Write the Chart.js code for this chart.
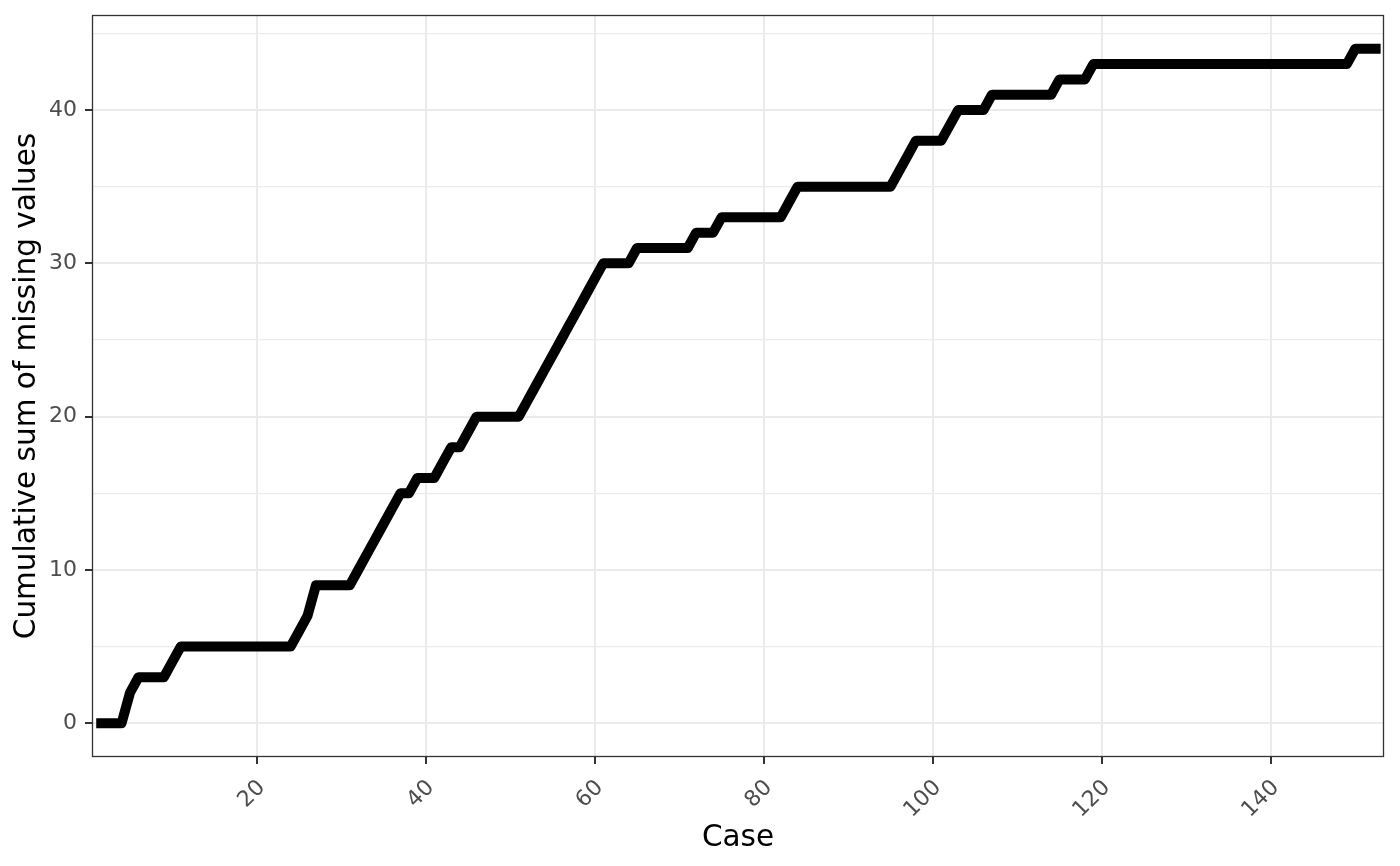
<!DOCTYPE html>
<html>
<head>
<meta charset="utf-8">
<script src="https://cdn.jsdelivr.net/npm/chart.js@4/dist/chart.umd.min.js"></script>
<style>
  html, body { margin: 0; padding: 0; background: #ffffff; }
  #wrap { width: 1400px; height: 866px; position: relative; }
</style>
</head>
<body>
<div id="wrap"><canvas id="c" width="1400" height="866"></canvas></div>
<script>
// Case index (row of the data set)
const cases = [
  1,2,3,4,5,6,7,8,9,10,11,12,13,14,15,16,17,18,19,20,
  21,22,23,24,25,26,27,28,29,30,31,32,33,34,35,36,37,38,39,40,
  41,42,43,44,45,46,47,48,49,50,51,52,53,54,55,56,57,58,59,60,
  61,62,63,64,65,66,67,68,69,70,71,72,73,74,75,76,77,78,79,80,
  81,82,83,84,85,86,87,88,89,90,91,92,93,94,95,96,97,98,99,100,
  101,102,103,104,105,106,107,108,109,110,111,112,113,114,115,116,117,118,119,120,
  121,122,123,124,125,126,127,128,129,130,131,132,133,134,135,136,137,138,139,140,
  141,142,143,144,145,146,147,148,149,150,151,152,153
];
// Cumulative sum of missing values at each case
const missingCumsum = [
  0,0,0,0,2,3,3,3,3,4,5,5,5,5,5,5,5,5,5,5,
  5,5,5,5,6,7,9,9,9,9,9,10,11,12,13,14,15,15,16,16,
  16,17,18,18,19,20,20,20,20,20,20,21,22,23,24,25,26,27,28,29,
  30,30,30,30,31,31,31,31,31,31,31,32,32,32,33,33,33,33,33,33,
  33,33,34,35,35,35,35,35,35,35,35,35,35,35,35,36,37,38,38,38,
  38,39,40,40,40,40,41,41,41,41,41,41,41,41,42,42,42,42,43,43,
  43,43,43,43,43,43,43,43,43,43,43,43,43,43,43,43,43,43,43,43,
  43,43,43,43,43,43,43,43,43,44,44,44,44
];
const xTicks = [20, 40, 60, 80, 100, 120, 140];
const yMajorTicks = [0, 10, 20, 30, 40];
const yMinorTicks = [5, 15, 25, 35, 45];

const points = cases.map((c, i) => ({ x: c, y: missingCumsum[i] }));
const yAllTicks = yMajorTicks.concat(yMinorTicks).sort((a, b) => a - b);

const panelBorder = {
  id: 'panelBorder',
  afterDatasetsDraw(chart) {
    const a = chart.chartArea, ctx = chart.ctx;
    ctx.save();
    ctx.strokeStyle = '#333333';
    ctx.lineWidth = 1.3;
    ctx.strokeRect(Math.round(a.left) + 0.5, Math.round(a.top) + 0.5,
                   Math.round(a.right - a.left) - 1, Math.round(a.bottom - a.top) - 1);
    ctx.restore();
  }
};

new Chart(document.getElementById('c'), {
  type: 'line',
  data: {
    datasets: [{
      data: points,
      borderColor: '#000000',
      borderWidth: 10,
      borderJoinStyle: 'round',
      borderCapStyle: 'butt',
      pointRadius: 0,
      pointHoverRadius: 0,
      tension: 0,
      fill: false
    }]
  },
  options: {
    responsive: false,
    animation: false,
    events: [],
    layout: { padding: { top: 15, right: 16, left: 0, bottom: 0 } },
    plugins: { legend: { display: false }, tooltip: { enabled: false }, title: { display: false } },
    scales: {
      x: {
        type: 'linear',
        min: 0.5,
        max: 153.4,
        afterBuildTicks(scale) { scale.ticks = xTicks.map(v => ({ value: v })); },
        afterFit(scale) { scale.height = 109; scale.paddingLeft = 0; scale.paddingRight = 0; },
        border: { display: false },
        grid: {
          color: '#ebebeb',
          lineWidth: 2,
          tickColor: '#333333',
          tickWidth: 2,
          tickLength: 7
        },
        ticks: {
          autoSkip: false,
          minRotation: 45,
          maxRotation: 45,
          padding: 11,
          labelOffset: 5,
          color: '#4d4d4d',
          font: { family: 'DejaVu Sans', size: 22 }
        },
        title: {
          display: true,
          text: 'Case',
          color: '#000000',
          font: { family: 'DejaVu Sans', size: 29.5 },
          padding: { top: 0, bottom: 10 }
        }
      },
      y: {
        type: 'linear',
        min: -2.2,
        max: 46.2,
        afterBuildTicks(scale) { scale.ticks = yAllTicks.map(v => ({ value: v })); },
        afterFit(scale) { scale.width = 92; scale.paddingTop = 0; scale.paddingBottom = 0; },
        border: { display: false },
        grid: {
          color: '#ebebeb',
          lineWidth: ctx => (yMajorTicks.includes(ctx.tick.value) ? 2 : 1.2),
          tickColor: ctx => (yMajorTicks.includes(ctx.tick.value) ? '#333333' : 'rgba(0,0,0,0)'),
          tickWidth: 2,
          tickLength: 7
        },
        ticks: {
          autoSkip: false,
          padding: 8,
          color: '#4d4d4d',
          font: { family: 'DejaVu Sans', size: 22 },
          callback: v => (yMajorTicks.includes(v) ? String(v) : '')
        },
        title: {
          display: true,
          text: 'Cumulative sum of missing values',
          color: '#000000',
          font: { family: 'DejaVu Sans', size: 29.5 },
          padding: { top: 10, bottom: 0 }
        }
      }
    }
  },
  plugins: [panelBorder]
});
</script>
</body>
</html>
